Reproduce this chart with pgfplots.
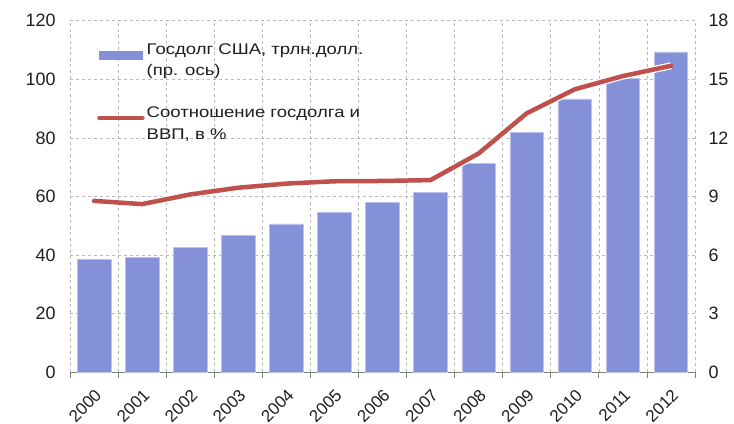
\documentclass[border=0pt]{standalone}
\usepackage{fontspec}
\setmainfont{Liberation Sans}
\newfontfamily\legfont[FakeStretch=1.2]{Liberation Sans}
\usepackage{pgfplots}
\pgfplotsset{compat=1.18}
\definecolor{barc}{RGB}{132,144,216}
\definecolor{linec}{RGB}{192,80,77}
\definecolor{gridc}{RGB}{185,185,185}
\definecolor{axc}{RGB}{130,130,130}
\definecolor{txt}{RGB}{30,30,30}
\begin{document}
\begin{tikzpicture}
\useasboundingbox (-70bp,-51.7bp) rectangle (664bp,372.3bp);
\pgfplotsset{common/.style={
  width=625bp,height=351.6bp,scale only axis,
  xmin=-0.5,xmax=12.5,at={(0,0)},anchor=south west,
  ticklabel style={font=\fontsize{18}{20}\selectfont, text=txt},
  /pgf/number format/assume math mode=true,
}}
\begin{axis}[common,
  ymin=0,ymax=18, ytick={0,3,...,18},
  axis y line*=right, y axis line style={draw=none}, ytick style={draw=none},
  yticklabel style={xshift=10bp},
  axis x line*=bottom, x axis line style={draw=axc, line width=0.8bp},
  xtick={0,...,12},
  xticklabels={2000,2001,2002,2003,2004,2005,2006,2007,2008,2009,2010,2011,2012},
  minor xtick={-0.5,0.5,...,12.5},
  xtick align=inside, major tick length=4bp, minor tick length=6bp,
  xtick style={draw=axc, line width=0.6bp},
  minor x tick style={yshift=-6bp, draw=axc, line width=0.8bp},
  xminorgrids, ymajorgrids, xmajorgrids=false,
  grid style={dashed, gridc, line width=0.6bp},
  minor grid style={dashed, gridc, line width=0.6bp},
  xticklabel shift=15.5bp,
  xticklabel style={inner sep=0pt, anchor=north east, rotate=45, font=\fontsize{17}{19}\selectfont},
]
\addplot[ybar, bar width=0.7, fill=barc, draw=barc!55!white, line width=0.6bp]
 coordinates {(0,5.8) (1,5.9) (2,6.4) (3,7.0) (4,7.6) (5,8.2) (6,8.7) (7,9.2) (8,10.7) (9,12.3) (10,14.0) (11,15.05) (12,16.4)};
\end{axis}
\begin{axis}[common,
  ymin=0,ymax=120, ytick={0,20,...,120},
  axis y line*=left, y axis line style={draw=none}, ytick style={draw=none},
  yticklabel style={xshift=-11bp},
  hide x axis,
  legend style={at={(axis description cs:0.0432,0.942)}, anchor=north west,
    draw=none, fill=none, inner sep=0pt,
    font=\legfont\fontsize{15.5}{22}\selectfont, text=txt,
    cells={anchor=west, align=left}, row sep=25bp},
]
\addlegendimage{legend image code/.code={\fill[barc] (0bp,1bp) rectangle (43bp,9bp);}}
\addlegendentry{Госдолг США, трлн.долл.\\(пр. ось)}
\addplot[white, line width=7bp, forget plot, line join=round]
 coordinates {(0,58.5) (1,57.4) (2,60.7) (3,63.0) (4,64.4) (5,65.2) (6,65.3) (7,65.6) (8,74.7) (9,88.4) (10,96.6) (11,101.1) (12,104.6)};
\addplot[linec, line width=4.5bp, line cap=round, line join=round,
  legend image code/.code={\draw[linec, line width=4.5bp] (0bp,5.5bp) -- (43bp,5.5bp);}]
 coordinates {(0,58.5) (1,57.4) (2,60.7) (3,63.0) (4,64.4) (5,65.2) (6,65.3) (7,65.6) (8,74.7) (9,88.4) (10,96.6) (11,101.1) (12,104.6)};
\addlegendentry{Соотношение госдолга и\\ВВП, в \%}
\end{axis}
\end{tikzpicture}
\end{document}
